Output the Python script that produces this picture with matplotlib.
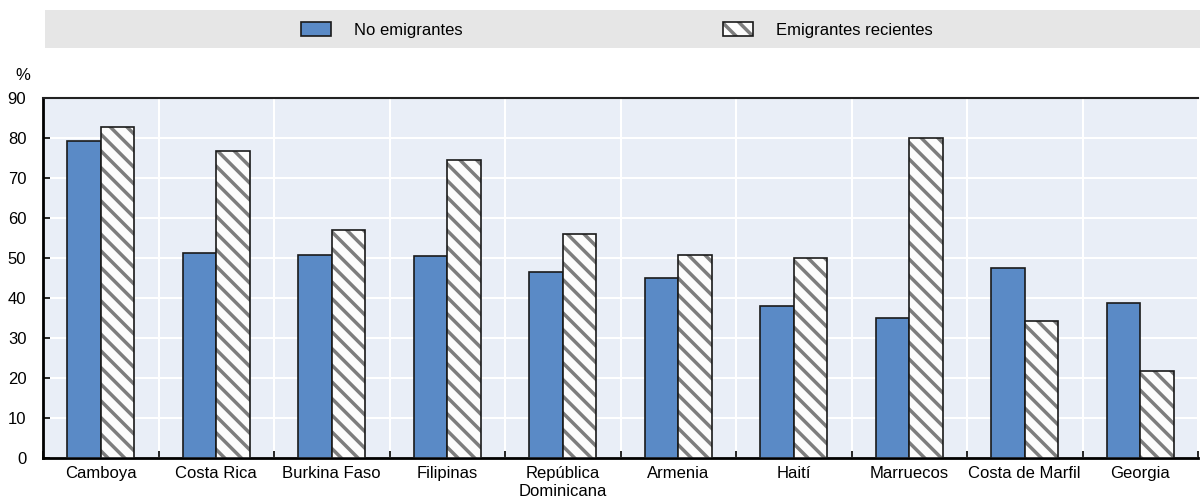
import matplotlib
matplotlib.use("Agg")
import matplotlib.pyplot as plt
from matplotlib.patches import Rectangle
import numpy as np

categories = ["Camboya", "Costa Rica", "Burkina Faso", "Filipinas", "República\nDominicana",
              "Armenia", "Haití", "Marruecos", "Costa de Marfil", "Georgia"]
no_emigrantes = [79.2, 51.2, 50.8, 50.4, 46.4, 45.0, 38.0, 35.0, 47.5, 38.8]
emigrantes_recientes = [82.8, 76.8, 57.1, 74.6, 56.0, 50.8, 50.0, 80.0, 34.2, 21.7]
series_names = ["No emigrantes", "Emigrantes recientes"]
yticks = [0, 10, 20, 30, 40, 50, 60, 70, 80, 90]

plt.rcParams['font.family'] = ['Liberation Sans Narrow', 'Liberation Sans', 'DejaVu Sans']
plt.rcParams['hatch.linewidth'] = 2.5

fig = plt.figure(figsize=(12, 5.04), dpi=100)
ax = fig.add_axes([43/1200, 1-458/504, 1155/1200, 360/504])
ax.set_facecolor('#E9EEF7')

x = np.arange(len(categories))
w = 0.29
b1 = ax.bar(x - w/2, no_emigrantes, w, color='#5A8AC6', edgecolor='#1a1a1a', linewidth=1.2,
            zorder=3)
b2h = ax.bar(x + w/2, emigrantes_recientes, w, color='#FCFCFC', edgecolor='#7d7d7d', linewidth=0,
             hatch='\\\\', zorder=3)
b2o = ax.bar(x + w/2, emigrantes_recientes, w, fill=False, edgecolor='#1a1a1a', linewidth=1.2,
             zorder=4)

ax.set_xlim(-0.5, len(categories) - 0.5)
ax.set_ylim(0, 90)
ax.set_yticks(yticks)
ax.set_xticks(x)
ax.set_xticklabels(categories, fontsize=12)
ax.tick_params(axis='x', length=0, pad=6)
ax.set_xticks(np.arange(len(categories) + 1) - 0.5, minor=True)
ax.tick_params(axis='x', which='minor', direction='in', length=5, width=1.2, color='black')
ax.tick_params(axis='y', direction='in', length=5, width=1.2, labelsize=12, pad=12)

ax.grid(axis='y', color='white', linewidth=1.5, zorder=0)
ax.grid(axis='x', which='minor', color='white', linewidth=1.5, zorder=0)
ax.set_axisbelow(True)

for s in ['left', 'bottom']:
    ax.spines[s].set_linewidth(2)
    ax.spines[s].set_color('black')
ax.spines['top'].set_linewidth(1.5)
ax.spines['top'].set_color('#222222')
ax.spines['right'].set_visible(False)

fig.text(15/1200, 1-75/504, '%', fontsize=12, ha='left', va='center')

# legend background
fig.patches.append(Rectangle((45/1200, 1-48/504), 1155/1200, 38/504, transform=fig.transFigure,
                             facecolor='#E6E6E6', edgecolor='none', zorder=0))
leg = fig.legend(handles=[b1, (b2h, b2o)], labels=series_names, loc='center',
                 bbox_to_anchor=(617/1200, 1-30/504), ncol=2, frameon=False,
                 fontsize=12, handlelength=1.8, handleheight=0.84, handletextpad=1.4,
                 columnspacing=15.6)

fig.savefig('out.png', dpi=100)
